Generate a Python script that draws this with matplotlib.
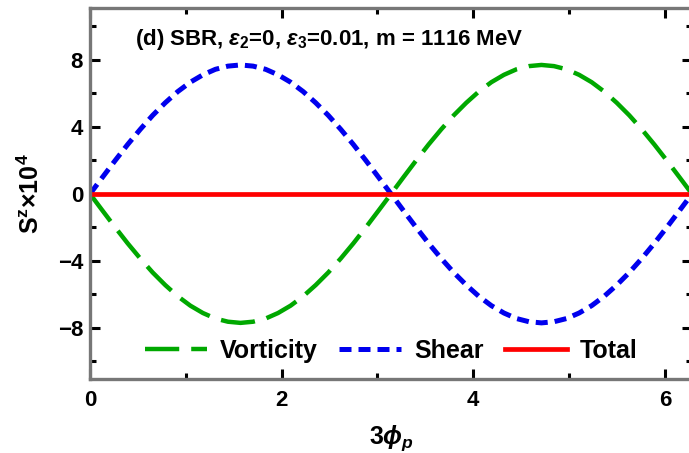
import numpy as np
import matplotlib
matplotlib.use("Agg")
import matplotlib.pyplot as plt
from matplotlib.ticker import MultipleLocator

# values (3*phi_p, S^z x 10^4)
phi = [0.000, 0.131, 0.262, 0.393, 0.524, 0.654, 0.785, 0.916, 1.047, 1.178, 1.309, 1.440,
       1.571, 1.702, 1.833, 1.963, 2.094, 2.225, 2.356, 2.487, 2.618, 2.749, 2.880, 3.011,
       3.142, 3.272, 3.403, 3.534, 3.665, 3.796, 3.927, 4.058, 4.189, 4.320, 4.451, 4.581,
       4.712, 4.843, 4.974, 5.105, 5.236, 5.367, 5.498, 5.629, 5.760, 5.890, 6.021, 6.152, 6.283]
shear = [0.00, 1.00, 1.99, 2.95, 3.85, 4.69, 5.44, 6.11, 6.67, 7.11, 7.44, 7.63,
         7.70, 7.63, 7.44, 7.11, 6.67, 6.11, 5.44, 4.69, 3.85, 2.95, 1.99, 1.00,
         0.00, -1.00, -1.99, -2.95, -3.85, -4.69, -5.44, -6.11, -6.67, -7.11, -7.44, -7.63,
         -7.70, -7.63, -7.44, -7.11, -6.67, -6.11, -5.44, -4.69, -3.85, -2.95, -1.99, -1.00, 0.00]
vorticity = [0.00, -1.00, -1.99, -2.95, -3.85, -4.69, -5.44, -6.11, -6.67, -7.11, -7.44, -7.63,
             -7.70, -7.63, -7.44, -7.11, -6.67, -6.11, -5.44, -4.69, -3.85, -2.95, -1.99, -1.00,
             0.00, 1.00, 1.99, 2.95, 3.85, 4.69, 5.44, 6.11, 6.67, 7.11, 7.44, 7.63,
             7.70, 7.63, 7.44, 7.11, 6.67, 6.11, 5.44, 4.69, 3.85, 2.95, 1.99, 1.00, 0.00]
total = [0.0] * len(phi)

plt.rcParams['font.family'] = ['Liberation Sans', 'DejaVu Sans']
plt.rcParams['font.weight'] = 'bold'
plt.rcParams['axes.labelweight'] = 'bold'
plt.rcParams['mathtext.fontset'] = 'custom'
plt.rcParams['mathtext.rm'] = 'Liberation Sans:bold'
plt.rcParams['mathtext.it'] = 'Liberation Sans:bold:italic'
plt.rcParams['mathtext.bf'] = 'Liberation Sans:bold'

fig = plt.figure(figsize=(6.89, 4.53), dpi=100)
ax = fig.add_axes([90 / 689, 1 - 379 / 453, 602 / 689, 371 / 453])

ax.plot(phi, vorticity, color='#00a800', lw=3.2, dashes=(7.7, 2.7), label='Vorticity')
ax.plot(phi, shear, color='#0000ee', lw=3.6, dashes=(2.4, 1.4), label='Shear')
ax.plot(phi, total, color='#ff0000', lw=3.4, label='Total')

ax.set_xlim(0, 2 * np.pi)
ax.set_ylim(-11.05, 11.1)
ax.xaxis.set_major_locator(MultipleLocator(2))
ax.xaxis.set_minor_locator(MultipleLocator(1))
ax.yaxis.set_major_locator(MultipleLocator(4))
ax.yaxis.set_minor_locator(MultipleLocator(2))
ax.tick_params(which='both', direction='in', top=True, right=True, color='black',
               width=2.2, labelsize=16, pad=5)
ax.tick_params(axis='x', which='major', pad=8)
ax.tick_params(which='major', length=7.5)
ax.tick_params(which='minor', length=4.5)
for s in ax.spines.values():
    s.set_color('#777777')
    s.set_linewidth(2.4)
ax.set_yticks([-8, -4, 0, 4, 8])
ax.set_yticklabels(['\u22128', '\u22124', '0', '4', '8'])

ax.set_xlabel(r'3$\phi_p$', fontsize=18, labelpad=9)
ax.set_ylabel(r'S$^{\mathrm{z}}$×10$^{4}$', fontsize=18, labelpad=10)

ax.text(0.075, 0.915, r'(d) SBR, $\varepsilon_2$=0, $\varepsilon_3$=0.01, m = 1116 MeV',
        transform=ax.transAxes, fontsize=16, fontweight='bold', va='center')

ax.legend(loc='center', bbox_to_anchor=(0.5, 0.075), ncol=3, frameon=False,
          fontsize=18, handlelength=2.5, columnspacing=0.85, handletextpad=0.5)

fig.savefig('out.png', dpi=100)
